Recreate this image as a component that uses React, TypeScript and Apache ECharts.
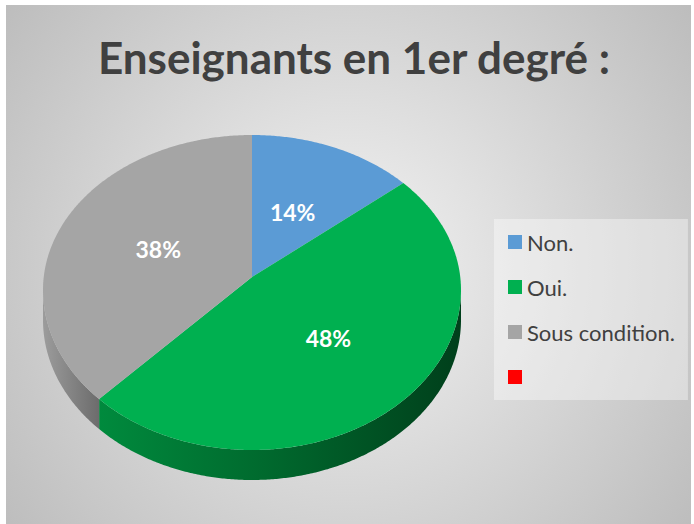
import React, { useEffect, useRef } from "react";
import * as echarts from "echarts";

// ---- data ----
const chartTitle = "Enseignants en 1er degré :";
const categories = ["Non.", "Oui.", "Sous condition.", " "];
const values = [14, 48, 38, 0];
const topColors = ["#5B9BD5", "#00B050", "#A5A5A5", "#FF0000"];

// ---- geometry / style constants ----
const CX = 252, CY = 290, RX = 209, RY_TOP = 155, RY_BOT = 160;
const APEX_X = 252, APEX_Y = 277, TILT = 0.75, DEPTH = 30;
const TWO_PI = Math.PI * 2;

const sideStops: Array<Array<{ offset: number; color: string }>> = [
  [{ offset: 0, color: "#3f6f9c" }, { offset: 1, color: "#2c5580" }],
  [{ offset: 0, color: "#008a3d" }, { offset: 0.45, color: "#006a2e" }, { offset: 1, color: "#003f1b" }],
  [{ offset: 0, color: "#9c9c9c" }, { offset: 1, color: "#6c6c6c" }],
  [{ offset: 0, color: "#aa0000" }, { offset: 1, color: "#880000" }],
];

function ryOf(y: number) { return y < CY ? RY_TOP : RY_BOT; }
function ellVal(x: number, y: number) {
  const a = (x - CX) / RX, b = (y - CY) / ryOf(y);
  return a * a + b * b;
}
function rayPoint(theta: number): number[] {
  const dx = Math.sin(theta), dy = -Math.cos(theta) * TILT;
  let lo = 0, hi = 600;
  for (let i = 0; i < 60; i++) {
    const mid = (lo + hi) / 2;
    if (ellVal(APEX_X + dx * mid, APEX_Y + dy * mid) < 1) lo = mid; else hi = mid;
  }
  return [APEX_X + dx * lo, APEX_Y + dy * lo];
}
function paramOf(p: number[]) {
  const a = (p[0] - CX) / RX, b = -(p[1] - CY) / ryOf(p[1]);
  let phi = Math.atan2(a, b);
  if (phi < 0) phi += TWO_PI;
  return phi;
}
function ellPoint(phi: number): number[] {
  const c = Math.cos(phi);
  return [CX + RX * Math.sin(phi), CY - (c > 0 ? RY_TOP : RY_BOT) * c];
}
function arcPts(p1: number, p2: number) {
  const n = Math.max(2, Math.ceil((p2 - p1) / (Math.PI / 360)));
  const pts: number[][] = [];
  for (let i = 0; i <= n; i++) pts.push(ellPoint(p1 + ((p2 - p1) * i) / n));
  return pts;
}

export default function App() {
  const ref = useRef<HTMLDivElement>(null);
  useEffect(() => {
    document.body.style.margin = "0";
    if (!ref.current) return;
    const chart = echarts.init(ref.current, null, { renderer: "svg" });
    const total = values.reduce((s, v) => s + v, 0);

    const renderItem = (params: any, api: any) => {
      const idx = params.dataIndex;
      const v = api.value(0);
      if (!v) return { type: "group", children: [] };
      let cum = 0;
      for (let i = 0; i < idx; i++) cum += values[i];
      const t1 = (TWO_PI * cum) / total;
      const t2 = (TWO_PI * (cum + v)) / total;
      const phi1 = t1 <= 1e-9 ? 0 : paramOf(rayPoint(t1));
      let phi2 = t2 >= TWO_PI - 1e-9 ? TWO_PI : paramOf(rayPoint(t2));
      if (phi2 < phi1) phi2 += TWO_PI;

      const children: any[] = [];
      const s1 = Math.max(phi1, Math.PI / 2);
      const s2 = Math.min(phi2, (3 * Math.PI) / 2);
      if (s2 > s1) {
        const top = arcPts(s1, s2);
        const bottom = top.map((p) => [p[0], p[1] + DEPTH]).reverse();
        children.push({
          type: "polygon",
          shape: { points: top.concat(bottom) },
          style: { fill: new echarts.graphic.LinearGradient(0, 0, 1, 0, sideStops[idx]) },
        });
      }
      const topPts = [[APEX_X, APEX_Y]].concat(arcPts(phi1, phi2));
      children.push({
        type: "polygon",
        shape: { points: topPts },
        style: { fill: topColors[idx] },
      });
      const mp = rayPoint((t1 + t2) / 2);
      const lx = (APEX_X + mp[0]) / 2, ly = (APEX_Y + mp[1]) / 2;
      children.push({
        type: "text",
        z2: 100,
        style: {
          text: Math.round((v / total) * 100) + "%",
          x: lx, y: ly,
          align: "center", verticalAlign: "middle",
          fill: "#ffffff",
          font: "bold 23px Lato",
        },
      });
      return { type: "group", children };
    };

    chart.setOption({
      animation: false,
      backgroundColor: "#ffffff",
      graphic: [
        {
          type: "rect",
          z: -10,
          silent: true,
          shape: { x: 6, y: 5, width: 685, height: 519 },
          style: {
            fill: new echarts.graphic.RadialGradient(348, 268, 430, [
              { offset: 0, color: "#f3f3f3" },
              { offset: 1, color: "#bdbdbd" },
            ], true),
          },
        },
        {
          type: "text",
          z: 10,
          x: 354,
          y: 57,
          style: {
            text: chartTitle,
            align: "center",
            verticalAlign: "middle",
            fill: "#404040",
            font: "bold 44px Lato",
          },
        },
      ],
      legend: {
        orient: "vertical",
        left: 494,
        top: 219,
        padding: [12, 13, 12, 14],
        itemGap: 23,
        itemWidth: 14,
        itemHeight: 14,
        itemSymbolOffset: 0,
        icon: "rect",
        selectedMode: false,
        backgroundColor: "rgba(255,255,255,0.38)",
        textStyle: { fontFamily: "Lato", fontSize: 22, color: "#404040", lineHeight: 22 },
        data: categories,
      },
      series: [
        {
          type: "custom",
          name: "pie3d",
          coordinateSystem: "none",
          silent: true,
          renderItem,
          data: values.map((v) => [v]),
        },
        {
          type: "pie",
          name: "legend",
          radius: [0, 0],
          center: [CX, CY],
          silent: true,
          label: { show: false },
          labelLine: { show: false },
          data: categories.map((c, i) => ({ name: c, value: values[i], itemStyle: { color: topColors[i] } })),
        },
      ],
    });
    return () => chart.dispose();
  }, []);
  return <div ref={ref} style={{ width: 694, height: 524 }} />;
}
